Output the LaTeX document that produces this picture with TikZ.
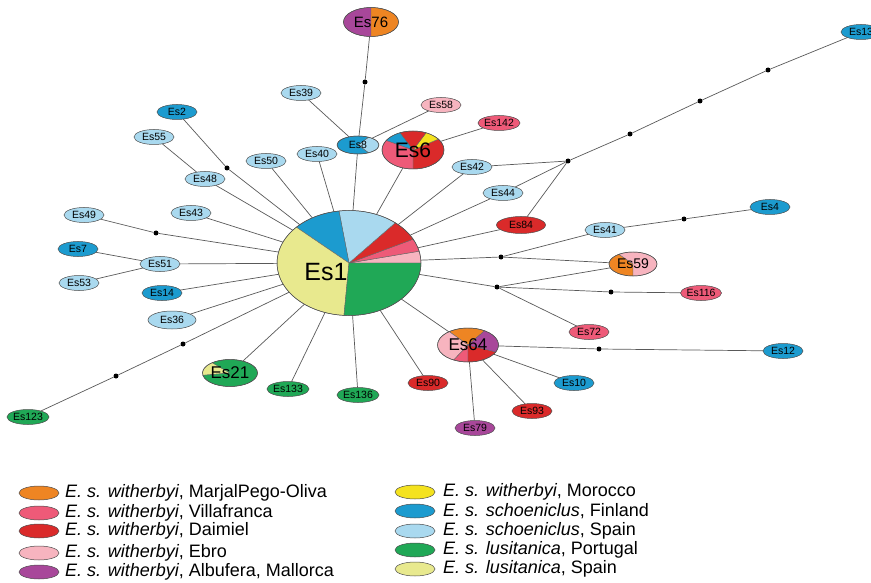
\documentclass[tikz,border=0pt]{standalone}
\usepackage{fontspec}
\setmainfont{Liberation Sans}
\usepackage{xcolor}
\usepackage{tikz}
\usetikzlibrary{shapes.geometric, backgrounds}

\definecolor{orangeMP}{HTML}{EE8523}
\definecolor{villaf}{HTML}{EE5A78}
\definecolor{daimiel}{HTML}{DA2A2A}
\definecolor{ebro}{HTML}{F7B4BF}
\definecolor{albuf}{HTML}{A8479A}
\definecolor{morocco}{HTML}{F4E21E}
\definecolor{finland}{HTML}{1C9BCF}
\definecolor{spainS}{HTML}{A9D9EF}
\definecolor{portugal}{HTML}{20A856}
\definecolor{spainL}{HTML}{E8E98E}

\begin{document}
\begin{tikzpicture}[
                        x = 1pt, y = 1pt,
                        hap/.style = {ellipse, draw=black!70, line width=0.5pt, inner sep=0pt, outer sep=0pt,
                                    minimum width=40pt, minimum height=15pt, font=\fontsize{10.5}{10.5}\selectfont},
                        pie/.style = {ellipse, draw=black!70, line width=0.5pt, inner sep=0pt, outer sep=0pt},
                        dot/.style = {circle, fill=black, inner sep=0pt, minimum size=5pt},
                        ln/.style  = {draw=black!65, line width=0.7pt},
                        leg/.style = {ellipse, draw=black!70, line width=0.5pt, minimum width=40pt, minimum height=14pt, inner sep=0pt},
                        legtxt/.style = {anchor=west, inner sep=0pt, font=\fontsize{18}{18}\selectfont}
                  ]
                  \useasboundingbox (0,0) rectangle (871,-583);

                  % pie haplotypes
                  \node[pie, minimum width=144pt, minimum height=105pt,
                        label={[font=\fontsize{25}{25}\selectfont, xshift=-23pt, yshift=-9pt]center:Es1}] (es1) at (349,-263) {};
                  \node[pie, minimum width=62pt, minimum height=38pt, font=\fontsize{21}{21}\selectfont] (es6) at (413,-150) {Es6};
                  \node[pie, minimum width=55pt, minimum height=29pt, font=\fontsize{15}{15}\selectfont] (es76) at (371,-22) {Es76};
                  \node[pie, minimum width=61pt, minimum height=34pt, font=\fontsize{17}{17}\selectfont] (es64) at (468,-345) {Es64};
                  \node[pie, minimum width=48pt, minimum height=24pt, font=\fontsize{14}{14}\selectfont] (es59) at (633,-264) {Es59};
                  \node[pie, minimum width=55pt, minimum height=27pt, font=\fontsize{17}{17}\selectfont] (es21) at (230,-373) {Es21};
                  \node[pie, minimum width=42pt, minimum height=18pt, font=\fontsize{10.5}{10.5}\selectfont] (es8) at (358,-145) {Es8};

                  % single haplotypes
                  \node[hap, fill=finland]  (es13)  at (861,-32)  {Es13};
                  \node[hap, fill=spainS]   (es39)  at (301,-93)  {Es39};
                  \node[hap, fill=ebro]     (es58)  at (441,-105) {Es58};
                  \node[hap, fill=finland]  (es2)   at (177,-112) {Es2};
                  \node[hap, fill=villaf]   (es142) at (499,-123) {Es142};
                  \node[hap, fill=spainS]   (es55)  at (154,-137) {Es55};
                  \node[hap, fill=spainS]   (es50)  at (266,-161) {Es50};
                  \node[hap, fill=spainS]   (es40)  at (317,-154) {Es40};
                  \node[hap, fill=spainS]   (es48)  at (205,-179) {Es48};
                  \node[hap, fill=spainS]   (es42)  at (472,-167) {Es42};
                  \node[hap, fill=spainS]   (es44)  at (503,-193) {Es44};
                  \node[hap, fill=spainS]   (es43)  at (191,-213) {Es43};
                  \node[hap, fill=spainS]   (es49)  at (84,-215)  {Es49};
                  \node[hap, fill=daimiel, minimum width=49pt, minimum height=17pt] (es84) at (521,-225) {Es84};
                  \node[hap, fill=spainS]   (es41)  at (605,-230) {Es41};
                  \node[hap, fill=finland]  (es4)   at (770,-207) {Es4};
                  \node[hap, fill=finland]  (es7)   at (78,-249)  {Es7};
                  \node[hap, fill=spainS]   (es51)  at (160,-264) {Es51};
                  \node[hap, fill=spainS]   (es53)  at (79,-283)  {Es53};
                  \node[hap, fill=finland]  (es14)  at (162,-293) {Es14};
                  \node[hap, fill=villaf]   (es116) at (701,-293) {Es116};
                  \node[hap, fill=spainS, minimum width=48pt, minimum height=18pt] (es36) at (172,-320) {Es36};
                  \node[hap, fill=villaf]   (es72)  at (589,-332) {Es72};
                  \node[hap, fill=finland]  (es12)  at (783,-351) {Es12};
                  \node[hap, fill=portugal] (es133) at (288,-389) {Es133};
                  \node[hap, fill=portugal] (es136) at (358,-395) {Es136};
                  \node[hap, fill=daimiel]  (es90)  at (428,-383) {Es90};
                  \node[hap, fill=finland]  (es10)  at (574,-383) {Es10};
                  \node[hap, fill=daimiel]  (es93)  at (532,-411) {Es93};
                  \node[hap, fill=albuf]    (es79)  at (475,-428) {Es79};
                  \node[hap, fill=portugal] (es123) at (28,-417)  {Es123};

                  % median vectors
                  \node[dot] (d1)  at (365,-82)  {};
                  \node[dot] (d2)  at (227,-168) {};
                  \node[dot] (d3)  at (156,-233) {};
                  \node[dot] (d4)  at (116,-376) {};
                  \node[dot] (d5)  at (183,-344) {};
                  \node[dot] (j1)  at (568,-161) {};
                  \node[dot] (d6)  at (630,-134) {};
                  \node[dot] (d7)  at (700,-101) {};
                  \node[dot] (d8)  at (768,-70)  {};
                  \node[dot] (j2)  at (501,-257) {};
                  \node[dot] (j3)  at (497,-287) {};
                  \node[dot] (d9)  at (684,-219) {};
                  \node[dot] (d10) at (611,-292) {};
                  \node[dot] (d11) at (599,-349) {};

                  % slices
                  \begin{pgfonlayer}{background}
                  \foreach \nd/\rx/\ry/\a/\b/\c in {
                        es1/72pt/52.5pt/0/13/ebro, es1/72pt/52.5pt/13/27/villaf, es1/72pt/52.5pt/27/50/daimiel,
                        es1/72pt/52.5pt/50/98/spainS, es1/72pt/52.5pt/98/137/finland, es1/72pt/52.5pt/137/266/spainL,
                        es1/72pt/52.5pt/266/360/portugal,
                        es6/31pt/19pt/-90/35/daimiel, es6/31pt/19pt/35/65/morocco, es6/31pt/19pt/65/115/daimiel,
                        es6/31pt/19pt/115/150/finland, es6/31pt/19pt/150/270/villaf,
                        es76/27.5pt/14.5pt/90/270/albuf, es76/27.5pt/14.5pt/-90/90/orangeMP,
                        es64/30.5pt/17pt/57/128/orangeMP, es64/30.5pt/17pt/128/242/ebro, es64/30.5pt/17pt/242/270/villaf,
                        es64/30.5pt/17pt/270/336/daimiel, es64/30.5pt/17pt/336/417/albuf,
                        es59/24pt/12pt/126/270/orangeMP, es59/24pt/12pt/270/486/ebro,
                        es21/27.5pt/13.5pt/130/190/spainL, es21/27.5pt/13.5pt/190/490/portugal,
                        es8/21pt/9pt/-60/60/spainS, es8/21pt/9pt/60/300/finland}
                        \filldraw[fill=\c, draw=black!60, line width=0.4pt] (\nd.center) -- ++(\a:{\rx} and {\ry})
                              arc[start angle=\a, end angle=\b, x radius=\rx, y radius=\ry] -- cycle;
                  \end{pgfonlayer}

                  % links
                  \foreach \u/\v in {es76/d1, d1/es8, es8/es1, es39/es8, es58/es8, es142/es6, es6/es1,
                                     es40/es1, es50/es1, es55/es48, es48/es1, es2/d2, d2/es1, es43/es1,
                                     es49/d3, d3/es1, es7/es51, es53/es51, es51/es1, es14/es1, es36/es1,
                                     es123/d4, d4/d5, d5/es1, es21/es1, es133/es1, es136/es1, es90/es1,
                                     es64/es1, es42/es1, es44/es1, es84/es1, es42/j1, es44/j1, es84/j1,
                                     j1/d6, d6/d7, d7/d8, d8/es13, es41/j2, j2/es1, j2/es59, es41/d9, d9/es4,
                                     j3/es1, j3/es59, j3/d10, d10/es116, j3/es72, es64/d11, d11/es12,
                                     es64/es10, es64/es93, es64/es79}
                        \draw[ln] (\u) -- (\v);

                  % legend
                  \foreach \c/\y/\t [count=\i] in {
                        orangeMP/493/{\textit{E. s. witherbyi}, MarjalPego-Oliva},
                        villaf/513/{\textit{E. s. witherbyi}, Villafranca},
                        daimiel/531/{\textit{E. s. witherbyi}, Daimiel},
                        ebro/553/{\textit{E. s. witherbyi}, Ebro},
                        albuf/572/{\textit{E. s. witherbyi}, Albufera, Mallorca}}
                  {
                        \node[leg, fill=\c] (legl\i) at (39,-\y) {};
                        \node[legtxt] (legtl\i) at (65,-\y) {\t};
                  }
                  \foreach \c/\y/\t [count=\i] in {
                        morocco/492/{\textit{E. s. witherbyi}, Morocco},
                        finland/511/{\textit{E. s. schoeniclus}, Finland},
                        spainS/531/{\textit{E. s. schoeniclus}, Spain},
                        portugal/550/{\textit{E. s. lusitanica}, Portugal},
                        spainL/569/{\textit{E. s. lusitanica}, Spain}}
                  {
                        \node[leg, fill=\c] (legr\i) at (415,-\y) {};
                        \node[legtxt] (legtr\i) at (443,-\y) {\t};
                  }
\end{tikzpicture}
\end{document}
